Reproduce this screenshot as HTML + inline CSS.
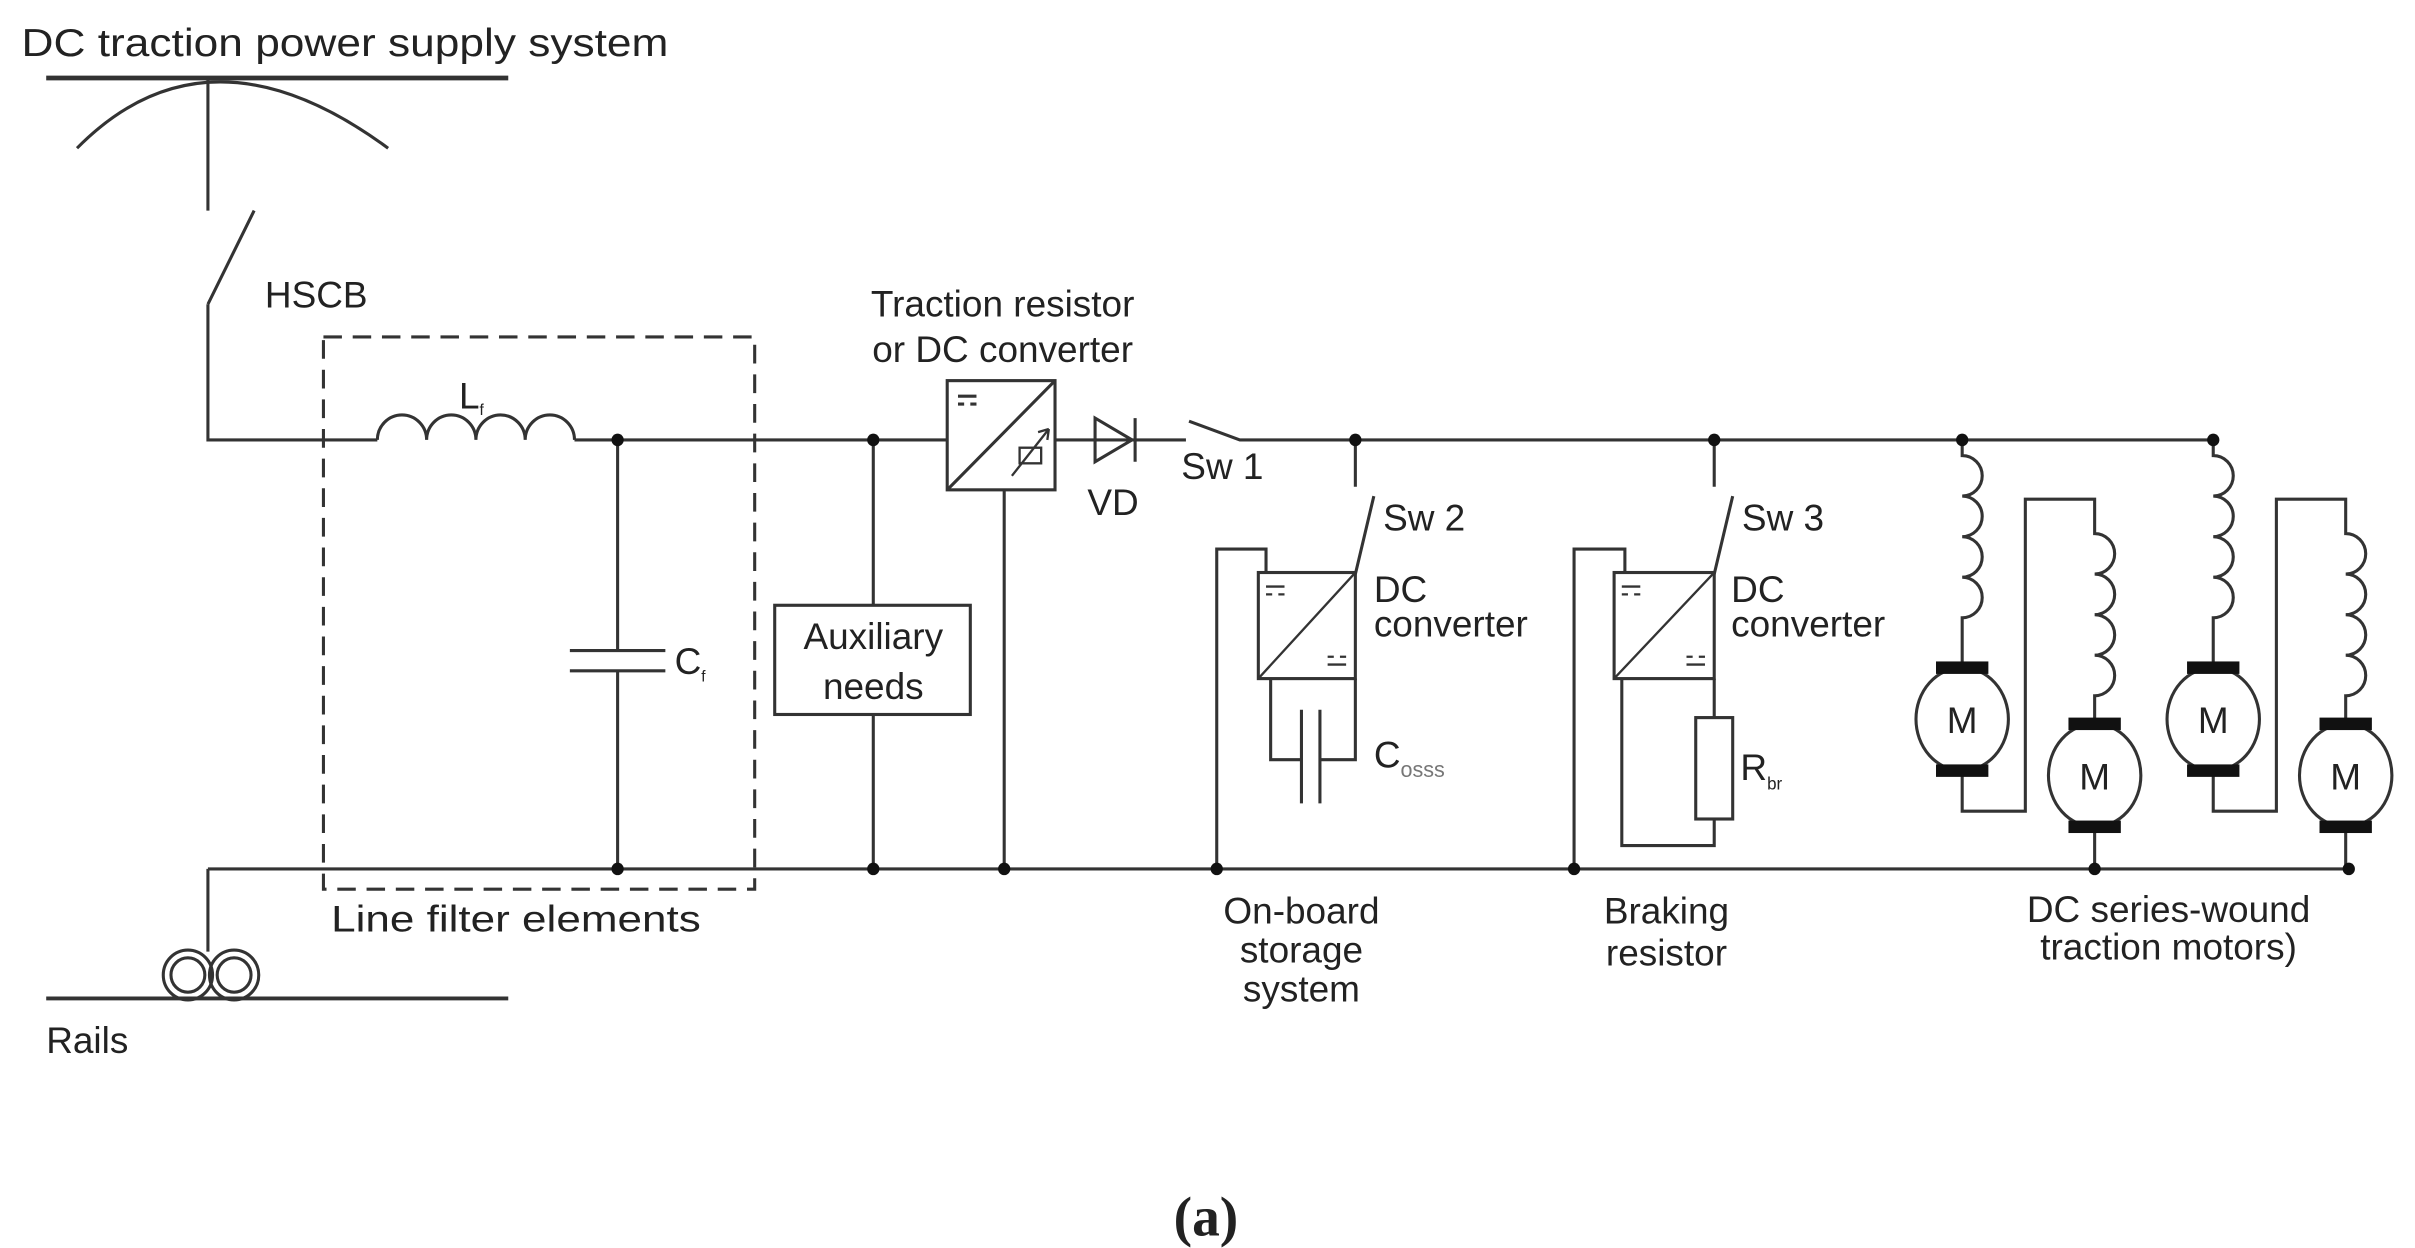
<!DOCTYPE html>
<html><head><meta charset="utf-8"><style>html,body{margin:0;padding:0;background:#fff}svg{display:block}</style></head>
<body>
<svg width="2415" height="1248" viewBox="0 0 1568 800" preserveAspectRatio="none" xmlns="http://www.w3.org/2000/svg" font-family="Liberation Sans, Arial, sans-serif" fill="none" stroke="#333" stroke-width="2">
<g fill="#222" stroke="none" font-size="24">
<text x="14" y="36" font-size="25" textLength="420" lengthAdjust="spacingAndGlyphs">DC traction power supply system</text>
<text x="172" y="197">HSCB</text>
<text x="298" y="262">L<tspan font-size="10" dy="4">f</tspan></text>
<text x="438" y="432">C<tspan font-size="10" dy="5">f</tspan></text>
<text x="215" y="597" textLength="240" lengthAdjust="spacingAndGlyphs">Line filter elements</text>
<text x="30" y="675">Rails</text>
<text x="567" y="416" text-anchor="middle">Auxiliary</text>
<text x="567" y="448" text-anchor="middle">needs</text>
<text x="651" y="203" text-anchor="middle">Traction resistor</text>
<text x="651" y="232" text-anchor="middle">or DC converter</text>
<text x="706" y="330">VD</text>
<text x="767" y="307">Sw 1</text>
<text x="898" y="340">Sw 2</text>
<text x="1131" y="340">Sw 3</text>
<text x="892" y="386">DC</text>
<text x="892" y="408">converter</text>
<text x="1124" y="386">DC</text>
<text x="1124" y="408">converter</text>
<text x="892" y="492">C<tspan font-size="14" dy="6" fill="#777">osss</tspan></text>
<text x="1130" y="500">R<tspan font-size="11" dy="6">br</tspan></text>
<text x="845" y="592" text-anchor="middle">On-board</text>
<text x="845" y="617" text-anchor="middle">storage</text>
<text x="845" y="642" text-anchor="middle">system</text>
<text x="1082" y="592" text-anchor="middle">Braking</text>
<text x="1082" y="619" text-anchor="middle">resistor</text>
<text x="1408" y="591" text-anchor="middle">DC series-wound</text>
<text x="1408" y="615" text-anchor="middle">traction motors)</text>
<text x="783" y="792" text-anchor="middle" font-family="Liberation Serif, serif" font-weight="bold" font-size="36">(a)</text>
</g>
<!-- supply -->
<line x1="30" y1="50" x2="330" y2="50" stroke-width="3"/>
<path d="M50 95 Q135 10 252 95"/>
<path d="M135 50 V135 M135 195 L165 135 M135 195 V282 H245"/>
<!-- inductor -->
<path d="M245 282 a16 16 0 0 1 32 0 a16 16 0 0 1 32 0 a16 16 0 0 1 32 0 a16 16 0 0 1 32 0"/>
<path d="M373 282 H615 M685 282 H770 M772 270 L805 282 H1437"/>
<!-- dashed -->
<rect x="210" y="216" width="280" height="354" stroke-dasharray="12 7"/>
<!-- Cf -->
<path d="M401 282 V417 M370 417 H432 M370 430 H432 M401 430 V557"/>
<!-- bottom bus -->
<path d="M135 557 H1528 M135 557 V610"/>
<circle cx="122" cy="625" r="16"/><circle cx="122" cy="625" r="11"/>
<circle cx="152" cy="625" r="16"/><circle cx="152" cy="625" r="11"/>
<line x1="30" y1="640" x2="330" y2="640" stroke-width="2.5"/>
<!-- aux -->
<path d="M567 282 V388 M567 458 V557"/>
<rect x="503" y="388" width="127" height="70"/>
<!-- traction converter -->
<rect x="615" y="244" width="70" height="70"/>
<path d="M615 314 L685 244 M622 254 h12 M622 259 h4 M630 259 h4 M652 314 V557"/>
<rect x="662" y="287" width="14" height="10" stroke-width="1.5"/>
<path d="M657 305 L681 275 M681 275 l-7 2 M681 275 l-1 7" stroke-width="1.5"/>
<!-- diode -->
<path d="M711 268 L735 282 L711 296 Z M737 268 V296"/>
<!-- Sw2 branch -->
<path d="M880 282 V312 M880 368 L892 318"/>
<rect x="817" y="367" width="63" height="68"/>
<path d="M817 435 L880 367 M822 376 h12 M822 381 h4 M830 381 h4 M862 426 h12 M862 421 h4 M870 421 h4" stroke-width="1.5"/>
<path d="M790 557 V352 H822 V367 M825 435 V487 H845 M845 455 V515 M857 455 V515 M857 487 H880 V435"/>
<!-- Sw3 branch -->
<path d="M1113 282 V312 M1113 368 L1125 318"/>
<rect x="1048" y="367" width="65" height="68"/>
<path d="M1048 435 L1113 367 M1053 376 h12 M1053 381 h4 M1061 381 h4 M1095 426 h12 M1095 421 h4 M1103 421 h4" stroke-width="1.5"/>
<path d="M1022 557 V352 H1055 V367 M1053 435 V542 H1113 V525 M1113 435 V460"/>
<rect x="1101" y="460" width="24" height="65"/>
<!-- motors -->
<g id="mp">
<path d="M1274 282 V292 a13 13 0 0 1 0 26 a13 13 0 0 1 0 26 a13 13 0 0 1 0 26 a13 13 0 0 1 0 26 V428 M1274 494 V520 H1315 V320 H1360 V342 a13 13 0 0 1 0 26 a13 13 0 0 1 0 26 a13 13 0 0 1 0 26 a13 13 0 0 1 0 26 V463 M1360 531 V557"/>
<ellipse cx="1274" cy="461" rx="30" ry="33"/>
<rect x="1257" y="424" width="34" height="8" fill="#111" stroke="none"/>
<rect x="1257" y="490" width="34" height="8" fill="#111" stroke="none"/>
<ellipse cx="1360" cy="497" rx="30" ry="33"/>
<rect x="1343" y="460" width="34" height="8" fill="#111" stroke="none"/>
<rect x="1343" y="526" width="34" height="8" fill="#111" stroke="none"/>
<text x="1274" y="470" text-anchor="middle" font-size="24" fill="#222" stroke="none">M</text>
<text x="1360" y="506" text-anchor="middle" font-size="24" fill="#222" stroke="none">M</text>
</g>
<use href="#mp" transform="translate(163 0)"/>
<!-- nodes -->
<g fill="#111" stroke="none">
<circle cx="401" cy="282" r="4"/><circle cx="401" cy="557" r="4"/>
<circle cx="567" cy="282" r="4"/><circle cx="567" cy="557" r="4"/>
<circle cx="652" cy="557" r="4"/>
<circle cx="880" cy="282" r="4"/><circle cx="1113" cy="282" r="4"/>
<circle cx="1274" cy="282" r="4"/><circle cx="1437" cy="282" r="4"/>
<circle cx="790" cy="557" r="4"/><circle cx="1022" cy="557" r="4"/>
<circle cx="1360" cy="557" r="4"/><circle cx="1525" cy="557" r="4"/>
</g>
</svg>
</body></html>
